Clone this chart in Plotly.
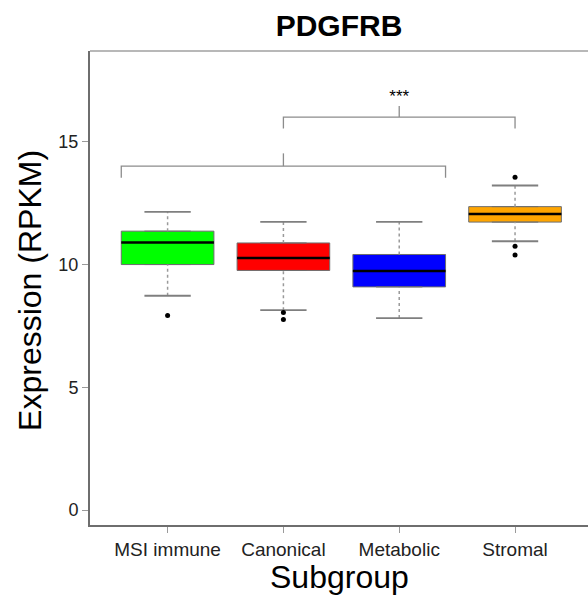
import plotly.graph_objects as go

# ---- data ----
categories = ["MSI immune", "Canonical", "Metabolic", "Stromal"]
positions = [1, 2, 3, 4]
colors = ["#00FF00", "#FF0000", "#0000FF", "#FFA500"]
lower_whisker = [8.73, 8.14, 7.82, 10.95]
q1 = [10.00, 9.76, 9.09, 11.73]
median = [10.90, 10.27, 9.74, 12.06]
q3 = [11.36, 10.88, 10.41, 12.36]
upper_whisker = [12.15, 11.74, 11.74, 13.22]
outliers_x = [1, 2, 2, 4, 4, 4]
outliers_y = [7.92, 8.05, 7.76, 13.56, 10.75, 10.39]

y_ticks = [0, 5, 10, 15]

# significance brackets: (x_left, x_right, y_bar, leg_bottom, tick_x, tick_top)
brackets = [
    (0.6, 3.4, 14.01, 13.54, 2, 14.53),
    (2, 4, 16.01, 15.54, 3, 16.46),
]
star_label = "***"
star_pos = (3, 16.8)

BOX_W = 0.8
CAP_W = 0.4
FONT = "Liberation Sans, Arial, Helvetica, sans-serif"

fig = go.Figure()

# whiskers (dotted) and caps
for p, lo, a, b, hi in zip(positions, lower_whisker, q1, q3, upper_whisker):
    fig.add_trace(go.Scatter(x=[p, p, None, p, p], y=[lo, a, None, b, hi], mode="lines",
                             line=dict(color="#9a9a9a", width=1.5, dash="dot"),
                             hoverinfo="skip", showlegend=False))
    fig.add_trace(go.Scatter(x=[p - CAP_W / 2, p + CAP_W / 2, None, p - CAP_W / 2, p + CAP_W / 2],
                             y=[lo, lo, None, hi, hi], mode="lines",
                             line=dict(color="#7f7f7f", width=1.8),
                             hoverinfo="skip", showlegend=False))

# box bodies
for p, c, a, m, b, name in zip(positions, colors, q1, median, q3, categories):
    fig.add_trace(go.Box(x=[p], q1=[a], median=[m], q3=[b], lowerfence=[a], upperfence=[b],
                         width=BOX_W, fillcolor=c, line=dict(color="#6e6e6e", width=1),
                         boxpoints=False, name=name, showlegend=False, hoverinfo="skip"))

# medians
for p, m in zip(positions, median):
    fig.add_trace(go.Scatter(x=[p - BOX_W / 2, p + BOX_W / 2], y=[m, m], mode="lines",
                             line=dict(color="black", width=2.5),
                             hoverinfo="skip", showlegend=False))

# outliers
fig.add_trace(go.Scatter(x=outliers_x, y=outliers_y, mode="markers",
                         marker=dict(color="black", size=5),
                         hoverinfo="skip", showlegend=False))

# brackets
for xl, xr, yb, yl, tx, tt in brackets:
    fig.add_trace(go.Scatter(x=[xl, xl, xr, xr, None, tx, tx], y=[yl, yb, yb, yl, None, yb, tt],
                             mode="lines", line=dict(color="#8c8c8c", width=1.3),
                             hoverinfo="skip", showlegend=False))
fig.add_trace(go.Scatter(x=[star_pos[0]], y=[star_pos[1]], mode="text", text=[star_label],
                         textfont=dict(size=17, color="black", family=FONT),
                         hoverinfo="skip", showlegend=False))

# frame lines
fig.add_shape(type="line", xref="paper", yref="paper", x0=0, x1=1, y0=1, y1=1,
              line=dict(color="#b8b8b8", width=2))

fig.update_layout(
    width=588, height=597,
    margin=dict(l=90, r=0, t=51, b=72),
    paper_bgcolor="white", plot_bgcolor="white",
    font=dict(family=FONT, color="#222222"),
    title=dict(text="<b>PDGFRB</b>", x=0.5, xref="paper", xanchor="center",
               y=1 - 25 / 597, yref="container", yanchor="middle",
               font=dict(size=30, color="black", family=FONT)),
    xaxis=dict(range=[0.33, 4.63], tickmode="array", tickvals=positions, ticktext=categories,
               showgrid=False, zeroline=False, showline=True, linecolor="#6e6e6e", linewidth=2,
               ticks="outside", ticklen=6, tickcolor="#9a9a9a", tickwidth=1,
               tickfont=dict(size=19, color="#222222")),
    yaxis=dict(range=[-0.61, 18.7], tickmode="array", tickvals=y_ticks,
               showgrid=False, zeroline=False, showline=True, linecolor="#6e6e6e", linewidth=2,
               ticks="outside", ticklen=6, tickcolor="#9a9a9a", tickwidth=1,
               tickfont=dict(size=18, color="#222222")),
    annotations=[
        dict(text="Expression (RPKM)", xref="paper", yref="paper", x=-0.1205, y=0.496,
             textangle=-90, xanchor="center", yanchor="middle", showarrow=False,
             font=dict(size=32, color="black", family=FONT)),
        dict(text="Subgroup", xref="paper", yref="paper", x=0.5, y=-0.1097,
             xanchor="center", yanchor="middle", showarrow=False,
             font=dict(size=32, color="black", family=FONT)),
    ],
)

fig.write_html("out.html", config={"displayModeBar": False},
               post_script="document.body.style.margin='0';document.body.style.overflow='hidden';")
